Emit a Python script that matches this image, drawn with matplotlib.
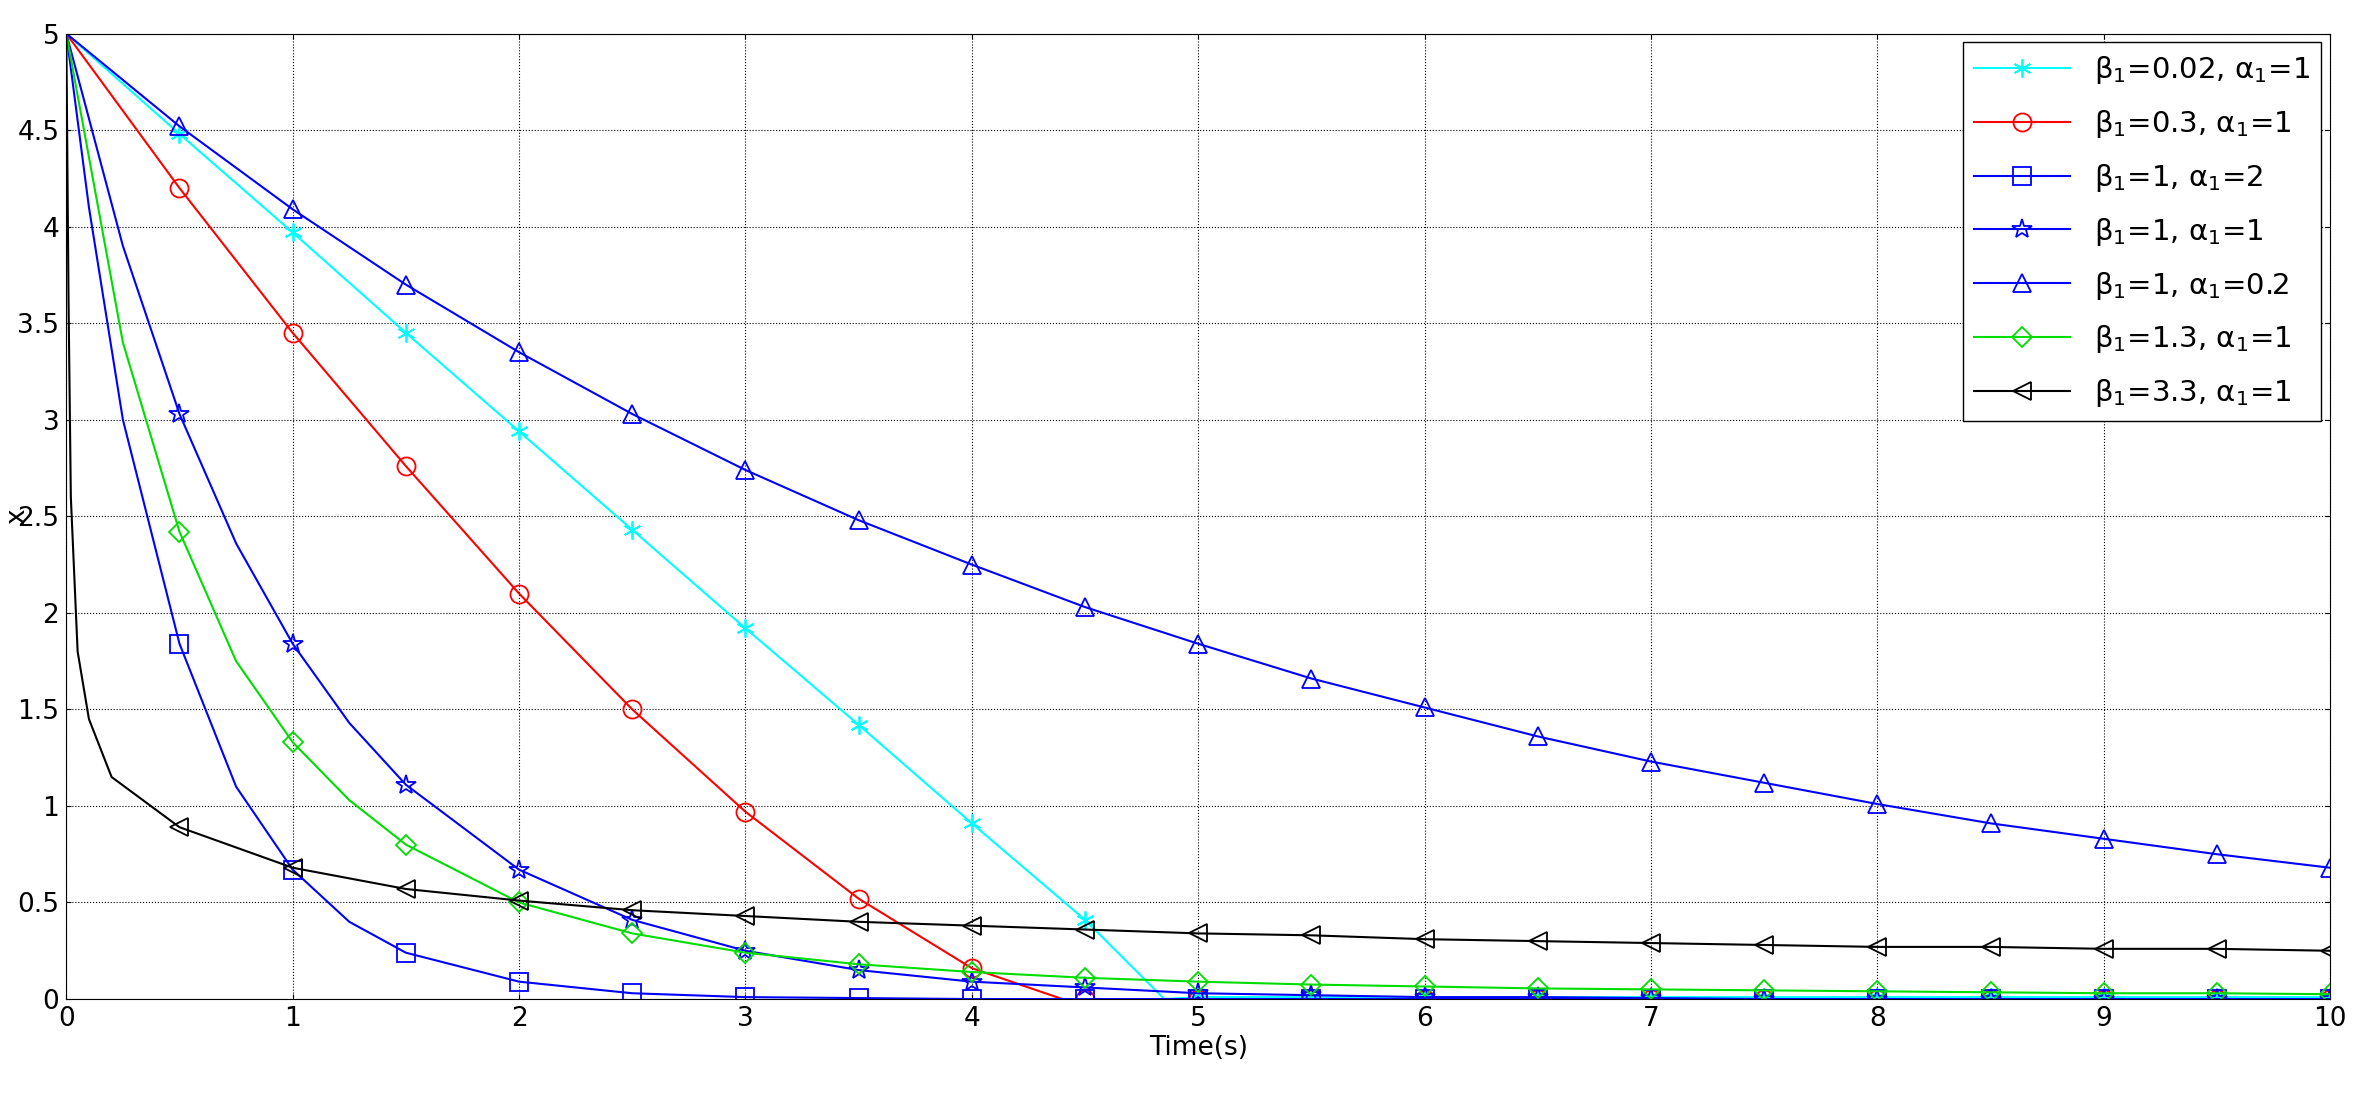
import matplotlib.pyplot as plt

# time grid at marker positions (0.5 s)
t_half = [0, 0.5, 1, 1.5, 2, 2.5, 3, 3.5, 4, 4.5, 5, 5.5, 6, 6.5, 7, 7.5, 8, 8.5, 9, 9.5, 10]

t_cyan = [0, 0.5, 1, 1.5, 2, 2.5, 3, 3.5, 4, 4.5, 4.85, 5, 5.5, 6, 6.5, 7, 7.5, 8, 8.5, 9, 9.5, 10]
x_cyan = [5, 4.48, 3.97, 3.45, 2.94, 2.43, 1.92, 1.42, 0.91, 0.41, 0.0, 0.01, 0.01, 0.01, 0.01, 0.01, 0.01, 0.01, 0.01, 0.01, 0.01, 0.01]

t_red = [0, 0.5, 1, 1.5, 2, 2.5, 3, 3.5, 4, 4.4, 4.5, 5, 5.5, 6, 6.5, 7, 7.5, 8, 8.5, 9, 9.5, 10]
x_red = [5, 4.2, 3.45, 2.76, 2.1, 1.5, 0.97, 0.52, 0.16, 0.0, 0.0, 0, 0, 0, 0, 0, 0, 0, 0, 0, 0, 0]

t_sq = [0, 0.1, 0.25, 0.5, 0.75, 1, 1.25, 1.5, 2, 2.5, 3, 3.5, 4, 4.5, 5, 5.5, 6, 6.5, 7, 7.5, 8, 8.5, 9, 9.5, 10]
x_sq = [5, 4.1, 3.0, 1.84, 1.1, 0.67, 0.4, 0.24, 0.09, 0.03, 0.01, 0.005, 0, 0, 0, 0, 0, 0, 0, 0, 0, 0, 0, 0, 0]

t_star = [0, 0.25, 0.5, 0.75, 1, 1.25, 1.5, 2, 2.5, 3, 3.5, 4, 4.5, 5, 5.5, 6, 6.5, 7, 7.5, 8, 8.5, 9, 9.5, 10]
x_star = [5, 3.9, 3.03, 2.36, 1.84, 1.43, 1.11, 0.67, 0.41, 0.25, 0.15, 0.09, 0.06, 0.03, 0.02, 0.01, 0.01, 0.005, 0, 0, 0, 0, 0, 0]

x_tri = [5, 4.52, 4.09, 3.70, 3.35, 3.03, 2.74, 2.48, 2.25, 2.03, 1.84, 1.66, 1.51, 1.36,
         1.23, 1.12, 1.01, 0.91, 0.83, 0.75, 0.68]

t_grn = [0, 0.25, 0.5, 0.75, 1, 1.25, 1.5, 2, 2.5, 3, 3.5, 4, 4.5, 5, 5.5, 6, 6.5, 7, 7.5, 8, 8.5, 9, 9.5, 10]
x_grn = [5, 3.4, 2.42, 1.75, 1.33, 1.03, 0.80, 0.50, 0.34, 0.24, 0.18, 0.14, 0.11, 0.09, 0.075, 0.065,
         0.055, 0.05, 0.045, 0.04, 0.035, 0.03, 0.03, 0.025]

t_blk = [0, 0.01, 0.02, 0.05, 0.1, 0.2, 0.5, 1, 1.5, 2, 2.5, 3, 3.5, 4, 4.5, 5, 5.5, 6, 6.5, 7, 7.5, 8, 8.5, 9, 9.5, 10]
x_blk = [5, 3.6, 2.6, 1.8, 1.45, 1.15, 0.89, 0.68, 0.57, 0.51, 0.46, 0.43, 0.40, 0.38, 0.36, 0.34,
         0.33, 0.31, 0.30, 0.29, 0.28, 0.27, 0.27, 0.26, 0.26, 0.25]

labels = [r'$\beta_1$=0.02, $\alpha_1$=1', r'$\beta_1$=0.3, $\alpha_1$=1', r'$\beta_1$=1, $\alpha_1$=2',
          r'$\beta_1$=1, $\alpha_1$=1', r'$\beta_1$=1, $\alpha_1$=0.2', r'$\beta_1$=1.3, $\alpha_1$=1',
          r'$\beta_1$=3.3, $\alpha_1$=1']

series = [
    (t_cyan, x_cyan, 'cyan', (6, 2, 0)),
    (t_red, x_red, 'red', 'o'),
    (t_sq, x_sq, 'blue', 's'),
    (t_star, x_star, 'blue', '*'),
    (t_half, x_tri, 'blue', '^'),
    (t_grn, x_grn, '#00dd00', 'D'),
    (t_blk, x_blk, 'black', '<'),
]

plt.rcParams['mathtext.default'] = 'regular'
plt.rcParams['font.size'] = 19

fig = plt.figure(figsize=(23.68, 11.2), dpi=100)
ax = fig.add_axes([0.028, 0.108, 0.956, 0.862])

for (t, x, c, m), lab in zip(series, labels):
    idx = [i for i, v in enumerate(t) if v >= 0.5 and abs(v * 2 - round(v * 2)) < 1e-9]
    ms = 13
    if m == 'D':
        ms = 10
    elif m == '*':
        ms = 15
    ax.plot(t, x, color=c, marker=m, markevery=idx, markersize=ms, fillstyle='none',
            markeredgewidth=1.3, linewidth=1.5, label=lab)

ax.set_xlim(0, 10)
ax.set_ylim(0, 5)
ax.set_xticks(range(0, 11))
ax.set_yticks([0, 0.5, 1, 1.5, 2, 2.5, 3, 3.5, 4, 4.5, 5])
ax.set_yticklabels(['0', '0.5', '1', '1.5', '2', '2.5', '3', '3.5', '4', '4.5', '5'])
ax.grid(True, color='black', linestyle=':', linewidth=0.8)
ax.tick_params(direction='in', top=True, right=True, pad=5)
ax.set_xlabel('Time(s)')
ax.set_ylabel('x')
ax.xaxis.labelpad = 2
ax.yaxis.set_label_coords(-0.016, 0.5)
ax.legend(loc='upper right', fancybox=False, edgecolor='black', framealpha=1,
          fontsize=21, handlelength=3.3, labelspacing=0.75, borderaxespad=0.3)

fig.savefig('out.png')
